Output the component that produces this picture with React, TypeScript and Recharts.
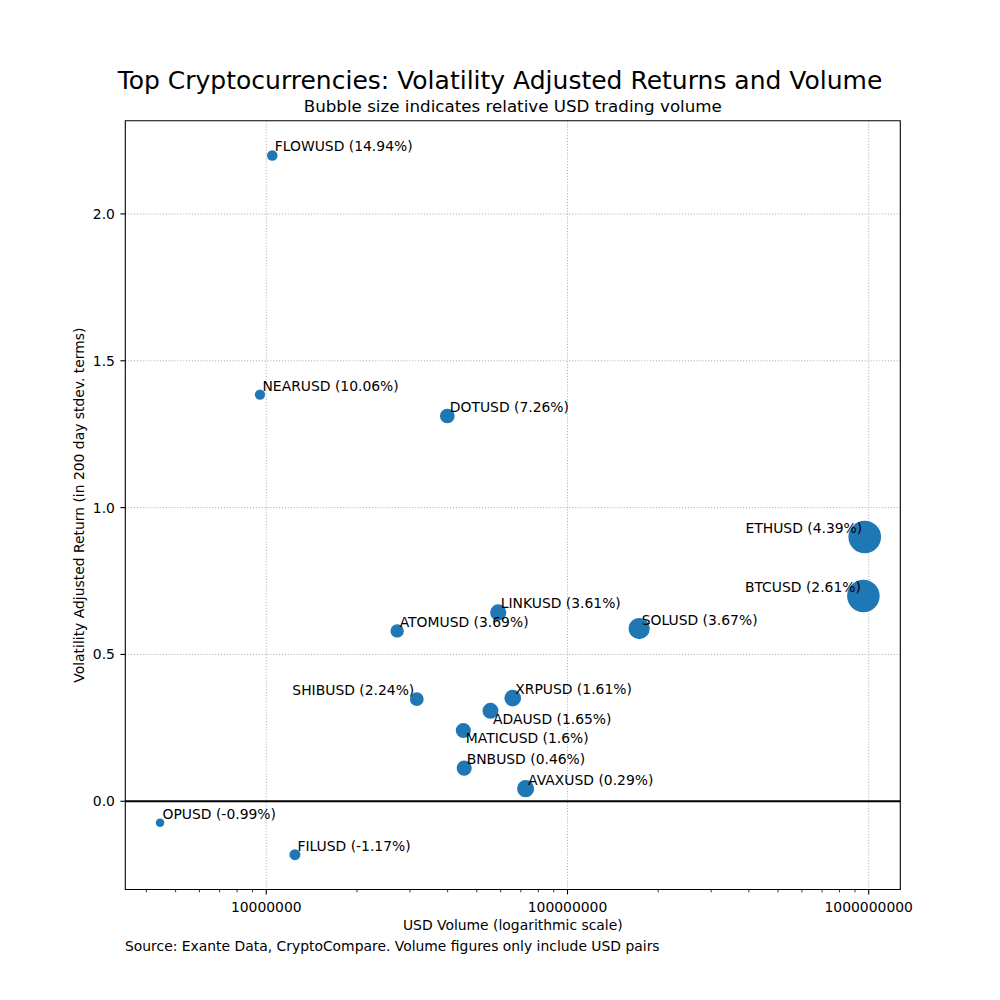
import React from "react"
import { ScatterChart, Scatter, XAxis, YAxis, ZAxis, CartesianGrid, ReferenceLine, ReferenceArea } from "recharts"

// values
const tickers = [
  "FLOWUSD", "NEARUSD", "DOTUSD", "ETHUSD", "BTCUSD", "LINKUSD", "SOLUSD", "ATOMUSD",
  "SHIBUSD", "XRPUSD", "ADAUSD", "MATICUSD", "BNBUSD", "AVAXUSD", "OPUSD", "FILUSD",
]
const usdVolume = [
  1.047e7, 9.53e6, 3.99e7, 9.7e8, 9.6e8, 5.89e7, 1.73e8, 2.72e7,
  3.16e7, 6.58e7, 5.55e7, 4.51e7, 4.54e7, 7.26e7, 4.44e6, 1.245e7,
]
const volAdjReturn = [
  2.199, 1.385, 1.312, 0.9, 0.699, 0.643, 0.588, 0.58,
  0.348, 0.351, 0.308, 0.241, 0.113, 0.043, -0.073, -0.182,
]
const pctReturn = [
  14.94, 10.06, 7.26, 4.39, 2.61, 3.61, 3.67, 3.69,
  2.24, 1.61, 1.65, 1.6, 0.46, 0.29, -0.99, -1.17,
]

const xMajorTicks = [1e7, 1e8, 1e9]
const xMinorTicks = [
  4e6, 5e6, 6e6, 7e6, 8e6, 9e6,
  2e7, 3e7, 4e7, 5e7, 6e7, 7e7, 8e7, 9e7,
  2e8, 3e8, 4e8, 5e8, 6e8, 7e8, 8e8, 9e8,
]
const yTicks = [0, 0.5, 1, 1.5, 2]

const xDomain: [number, number] = [3.404e6, 1.273e9]
const yDomain: [number, number] = [-0.3005, 2.3175]

// where each annotation sits relative to its bubble (default: up-right)
const labelPlacement: Record<string, "left" | "below"> = {
  ETHUSD: "left",
  BTCUSD: "left",
  SHIBUSD: "left",
  ADAUSD: "below",
  MATICUSD: "below",
}

const data = tickers.map((ticker, i) => ({
  ticker,
  volume: usdVolume[i],
  ret: volAdjReturn[i],
  pct: pctReturn[i],
}))

const FONT = "'DejaVu Sans', sans-serif"
const BLUE = "#1f77b4"

function XTick({ x, y, payload }: any) {
  const major = xMajorTicks.includes(payload.value)
  return (
    <g>
      <line x1={x} x2={x} y1={y} y2={y + (major ? 4.9 : 2.8)} stroke="#000" strokeWidth={major ? 1.1 : 0.8} />
      {major && (
        <text x={x} y={y + 22.2} textAnchor="middle" fontSize={13.9} fontFamily={FONT} fill="#000">
          {payload.value.toFixed(0)}
        </text>
      )}
    </g>
  )
}

function PointLabel({ cx, cy, payload }: any) {
  const place = labelPlacement[payload.ticker]
  const text = `${payload.ticker} (${payload.pct}%)`
  const common = { fontSize: 13.9, fontFamily: FONT, fill: "#000" }
  if (place === "left") {
    return <text x={cx - 2.5} y={cy - 4} textAnchor="end" {...common}>{text}</text>
  }
  if (place === "below") {
    return <text x={cx + 2.5} y={cy + 13} textAnchor="start" {...common}>{text}</text>
  }
  return <text x={cx + 2.5} y={cy - 4} textAnchor="start" {...common}>{text}</text>
}

export default function App() {
  return (
    <div style={{ position: "absolute", left: 0, top: 0, width: 1000, height: 1000, background: "#fff" }}>
      <ScatterChart
        width={1000}
        height={1000}
        margin={{ top: 120.7, right: 99.7, bottom: 70.5, left: 65.3 }}
      >
        <CartesianGrid
          stroke="#b0b0b0"
          strokeWidth={1}
          strokeDasharray="1.1 1.8"
          verticalValues={xMajorTicks}
          horizontalValues={yTicks}
        />
        <XAxis
          type="number"
          dataKey="volume"
          scale="log"
          domain={xDomain}
          allowDataOverflow
          ticks={[...xMajorTicks, ...xMinorTicks]}
          interval={0}
          height={40}
          axisLine={false}
          tickLine={false}
          tickSize={0}
          tickMargin={0}
          tick={<XTick />}
        />
        <YAxis
          type="number"
          dataKey="ret"
          domain={yDomain}
          allowDataOverflow
          ticks={yTicks}
          interval={0}
          width={60}
          axisLine={false}
          tickLine={{ stroke: "#000", strokeWidth: 1.1 }}
          tickSize={4.9}
          tickMargin={5.5}
          tickFormatter={(v: number) => v.toFixed(1)}
          tick={{ fill: "#000", fontSize: 13.9, fontFamily: FONT }}
        />
        <ZAxis type="number" dataKey="volume" scale="sqrt" domain={[0, Math.max(...usdVolume)]} range={[0, 835]} />
        <ReferenceLine y={0} stroke="#000" strokeWidth={2} />
        <Scatter data={data} fill={BLUE} isAnimationActive={false} />
        <Scatter data={data} shape={PointLabel} isAnimationActive={false} />
        <ReferenceArea
          x1={xDomain[0]}
          x2={xDomain[1]}
          y1={yDomain[0]}
          y2={yDomain[1]}
          fill="none"
          fillOpacity={0}
          stroke="#000"
          strokeWidth={1.1}
          ifOverflow="visible"
        />
      </ScatterChart>
      <svg
        width={1000}
        height={1000}
        style={{ position: "absolute", left: 0, top: 0, pointerEvents: "none" }}
        fontFamily={FONT}
      >
        <text x={500} y={89.3} textAnchor="middle" fontSize={25} fill="#000">
          Top Cryptocurrencies: Volatility Adjusted Returns and Volume
        </text>
        <text x={512.8} y={111.7} textAnchor="middle" fontSize={16.7} fill="#000">
          Bubble size indicates relative USD trading volume
        </text>
        <text x={512.8} y={930} textAnchor="middle" fontSize={13.9} fill="#000">
          USD Volume (logarithmic scale)
        </text>
        <text
          x={83.6}
          y={505.1}
          textAnchor="middle"
          fontSize={13.9}
          fill="#000"
          transform="rotate(-90, 83.6, 505.1)"
        >
          Volatility Adjusted Return (in 200 day stdev. terms)
        </text>
        <text x={125} y={950.7} textAnchor="start" fontSize={13.9} fill="#000">
          Source: Exante Data, CryptoCompare. Volume figures only include USD pairs
        </text>
      </svg>
    </div>
  )
}
